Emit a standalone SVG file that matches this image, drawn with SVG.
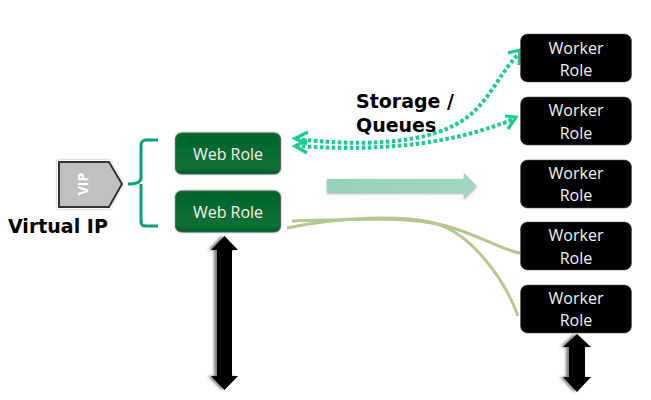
<svg xmlns="http://www.w3.org/2000/svg" width="651" height="400" viewBox="0 0 651 400">
<style>
.web{fill:url(#wg);stroke:#3f6f50;stroke-width:1;filter:url(#sh3)}
.wk{fill:#000;stroke:#555;stroke-width:.6}
.t{font-family:"Open Sans","Noto Sans",sans-serif;font-size:16px;fill:#f2f2f2;text-anchor:middle}
.b{font-family:"DejaVu Sans",sans-serif;font-weight:bold;font-size:19px;fill:#000}
.dot{fill:none;stroke:#14cc96;stroke-width:4;stroke-dasharray:3.5 2.5}
.head{fill:none;stroke:#14cc96;stroke-width:3.2}
.cv{fill:none;stroke:#b3c98e;stroke-width:3}
.dbl{fill:#000;filter:url(#sh)}
</style>
<defs>
<linearGradient id="wg" x1="0" y1="0" x2="0" y2="1"><stop offset="0" stop-color="#05652c"/><stop offset=".85" stop-color="#087035"/><stop offset="1" stop-color="#04582a"/></linearGradient>
<linearGradient id="ag" x1="0" y1="0" x2="1" y2="0"><stop offset="0" stop-color="#93d3b8"/><stop offset="1" stop-color="#a2d6bf"/></linearGradient>
<filter id="sh" x="-60%" y="-10%" width="200%" height="120%"><feDropShadow dx="-3" dy="0" stdDeviation="1.500" flood-color="#000" flood-opacity=".5"/></filter>
<filter id="sh2" x="-10%" y="-30%" width="120%" height="170%"><feDropShadow dx="0" dy="1" stdDeviation="1.200" flood-color="#000" flood-opacity=".3"/></filter>
<filter id="sh3" x="-10%" y="-20%" width="120%" height="140%"><feDropShadow dx="0" dy="0" stdDeviation="1" flood-color="#000" flood-opacity=".35"/></filter>
</defs>
<g id="connectors">
<path class="dot" d="M296 139C350 145 430 148 470 115C490 99 505 65 520 53"/>
<path class="dot" d="M296 146C360 150 440 150 516 118"/>
<path class="head" d="M308 132L295 138.500L307 144"/>
<path class="head" d="M307 140L295 146L307 153"/>
<path class="head" d="M508 53L520 50L519 65"/>
<path class="head" d="M505 116L516 117L508 129"/>
<path class="cv" d="M287 228C340 217 400 215 430 222C470 230 505 280 518 316"/>
<path class="cv" d="M292 221C350 220 410 215 450 227C480 236 505 251 520 253"/>
<path fill="url(#ag)" d="M327 179H464V173L477 186L464 199V193H327Z" filter="url(#sh2)"/>
<path class="dbl" d="M224.500 236L238 250H232V376H238L224.500 390L211 376H217V250H211Z"/>
<path class="dbl" d="M577 334L591 347H585V377H591L577 392L563 377H569V347H563Z"/>
</g>
<g id="bracket"><path fill="none" stroke="#00a37a" stroke-width="3" d="M158 140H146Q141 140 141 146V178Q141 184 128 184M141 184V222Q141 226 146 226H158"/></g>
<g id="vip">
<path d="M57 160H110L124 184L110 209H57Z" fill="#fff" filter="url(#sh3)"/>
<path d="M59 162H109L122 184L109 207H59Z" fill="#c0c0c0" stroke="#333" stroke-width="2"/>
<text x="0" y="0" transform="translate(88 184) rotate(-90)" font-family="Open Sans,sans-serif" font-weight="bold" font-size="14" fill="#fff" text-anchor="middle">VIP</text>
</g>
<g id="vip-label"><text class="b" x="8" y="233">Virtual IP</text></g>
<g id="storage-label"><text class="b" x="356" y="108">Storage /</text><text class="b" x="356" y="132">Queues</text></g>
<g id="web1"><rect class="web" x="175.500" y="133" width="105" height="41" rx="6"/><text class="t" x="228" y="160">Web Role</text></g>
<g id="web2"><rect class="web" x="175.500" y="191" width="105" height="41" rx="6"/><text class="t" x="228" y="218">Web Role</text></g>
<g id="w1"><rect class="wk" x="520.500" y="34" width="111" height="48" rx="7"/><text class="t" x="576" y="54">Worker</text><text class="t" x="576" y="76">Role</text></g>
<g id="w2"><rect class="wk" x="520.500" y="97" width="111" height="48" rx="7"/><text class="t" x="576" y="116">Worker</text><text class="t" x="576" y="139">Role</text></g>
<g id="w3"><rect class="wk" x="520.500" y="160" width="111" height="48" rx="7"/><text class="t" x="576" y="179">Worker</text><text class="t" x="576" y="201">Role</text></g>
<g id="w4"><rect class="wk" x="520.500" y="222" width="111" height="48" rx="7"/><text class="t" x="576" y="241">Worker</text><text class="t" x="576" y="264">Role</text></g>
<g id="w5"><rect class="wk" x="520.500" y="285" width="111" height="48" rx="7"/><text class="t" x="576" y="304">Worker</text><text class="t" x="576" y="326">Role</text></g>
</svg>
